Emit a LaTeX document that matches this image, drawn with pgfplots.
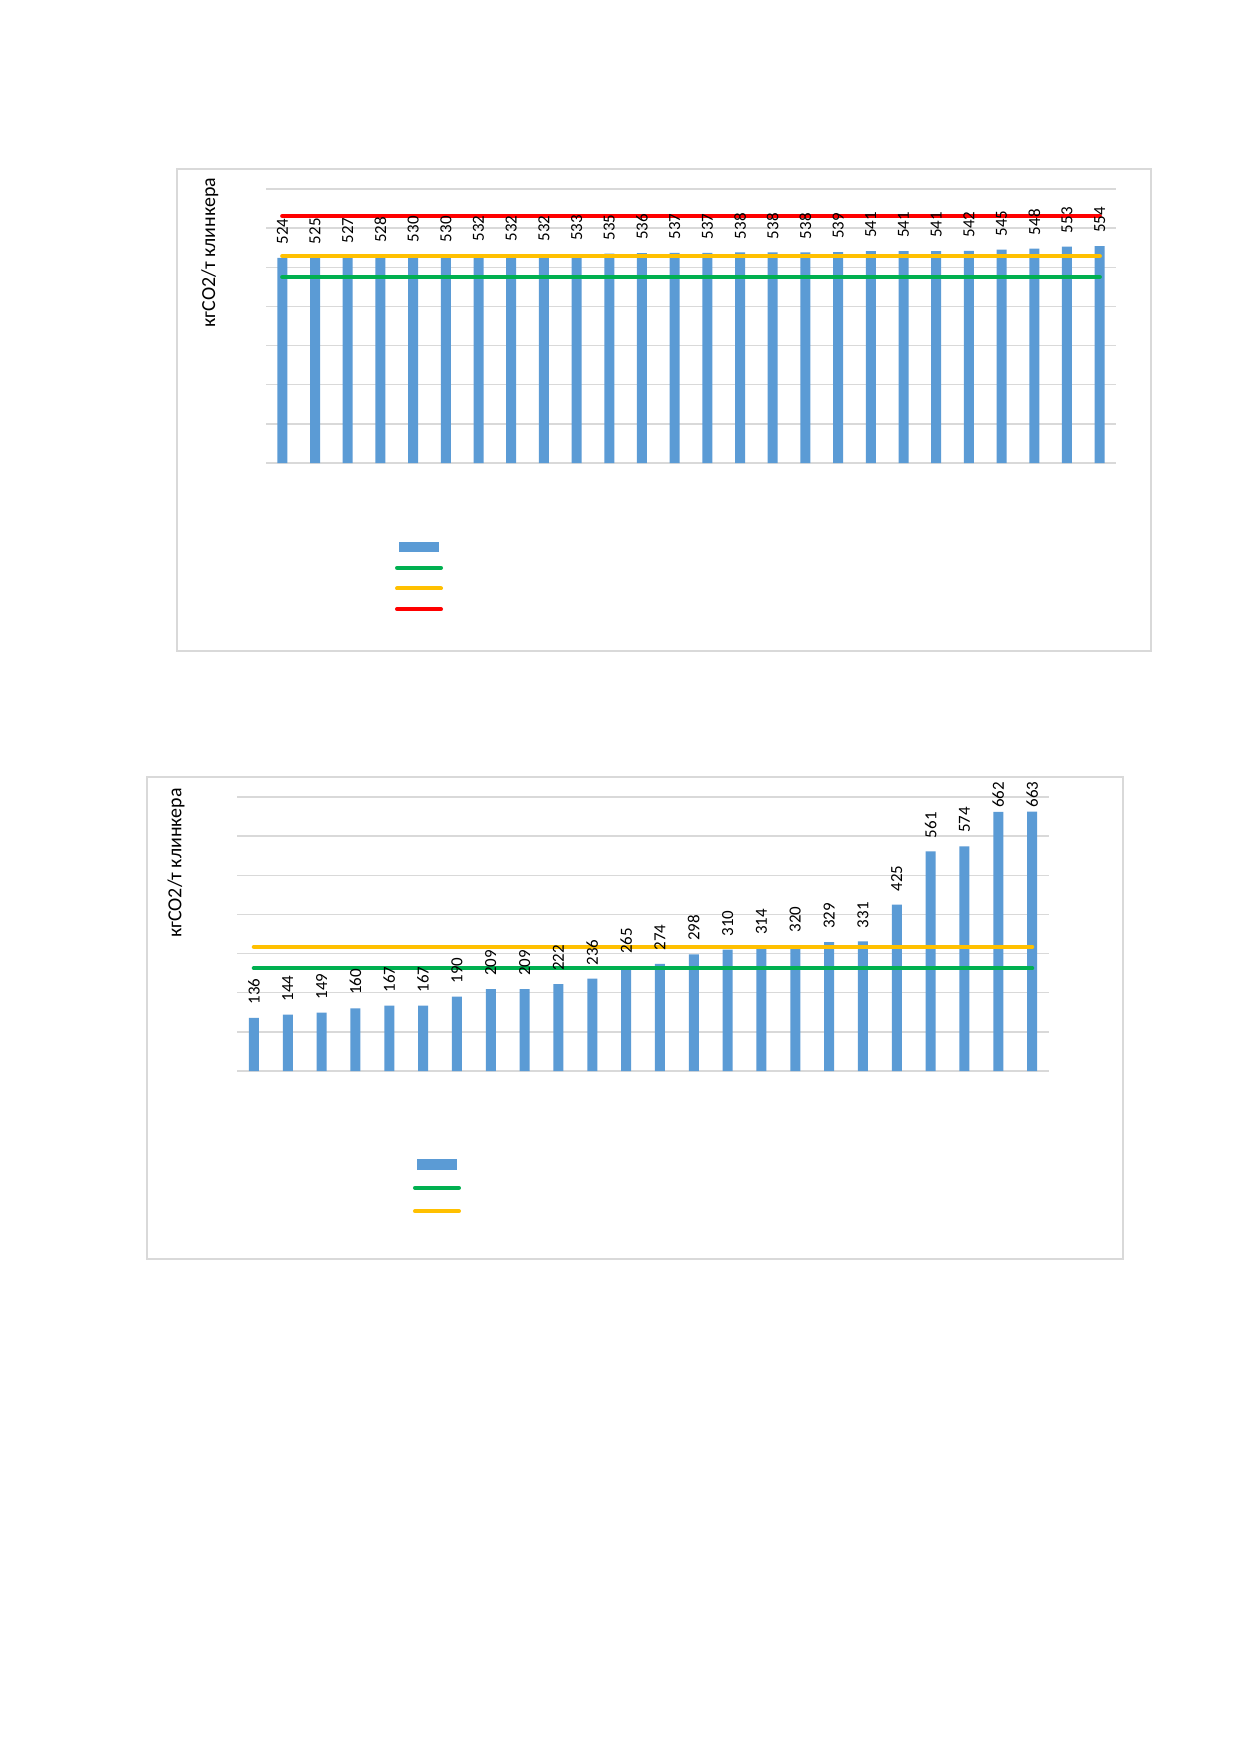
\documentclass[border=0pt]{standalone}
\usepackage{fontspec}
\setmainfont{Carlito}
\usepackage{pgfplots}
\pgfplotsset{compat=1.18}
\definecolor{barblue}{HTML}{5B9BD5}
\definecolor{lgreen}{HTML}{00B050}
\definecolor{lyellow}{HTML}{FFC000}
\definecolor{lred}{HTML}{FF0000}
\definecolor{gridgray}{HTML}{D9D9D9}
\pgfplotsset{
  mychart/.style={
    scale only axis, anchor=south west, height=137bp,
    /pgf/number format/assume math mode=true,
    ymin=0, ymax=700, ytick={0,100,...,700}, yticklabels={},
    xtick=\empty, major tick length=0pt,
    ymajorgrids, grid style={draw=gridgray, line width=0.7bp},
    axis line style={draw=none}, clip=false,
    ylabel={кгCO2/т клинкера},
    ylabel style={font=\fontsize{8.9}{11}\selectfont},
    legend style={draw=none, fill=none, inner sep=0pt, outer sep=0pt,
      anchor=north west, row sep=0pt, column sep=0pt,
      nodes={inner sep=0pt, outer sep=0pt, text height=0pt, text depth=0pt}},
  },
  mybars/.style={ybar, bar width=5bp, fill=barblue, draw=none,
    visualization depends on={\thisrow{g} \as \labgap},
    nodes near coords, nodes near coords align={anchor=west},
    every node near coord/.append style={rotate=90, anchor=west, text=black,
      font=\fontsize{8.5}{10}\selectfont, inner xsep=\labgap bp, inner ysep=0pt},
    legend image code/.code={\path[draw=none,fill=none] (0bp,-#1) rectangle (22bp,#1);
      \fill[barblue] (1bp,-2.6bp) rectangle (21bp,2.6bp);}},
  myline/.style n args={2}{sharp plot, draw=#1, line width=2.2bp, line cap=round, mark=none,
    legend image code/.code={\path[draw=none,fill=none] (0bp,-#2) rectangle (22bp,#2);
      \draw[#1, line width=2bp, line cap=round] (0bp,0bp) -- (22bp,0bp);}},
}
\pgfplotstableread{
x y g
0 524 6.5
1 525 6.5
2 527 6.5
3 528 6.5
4 530 6.5
5 530 6.5
6 532 6.5
7 532 6.5
8 532 6.5
9 533 6.5
10 535 6.5
11 536 6.5
12 537 6.5
13 537 6.5
14 538 6.5
15 538 6.5
16 538 6.5
17 539 6.5
18 541 6.5
19 541 6.5
20 541 6.5
21 542 6.5
22 545 6.5
23 548 6.5
24 553 6.5
25 554 6.5
}\dataA
\pgfplotstableread{
x y g
0 136 6.5
1 144 6.5
2 149 6.5
3 160 6.5
4 167 6.5
5 167 6.5
6 190 6.5
7 209 6.5
8 209 6.5
9 222 6.5
10 236 6.5
11 265 6.5
12 274 6.5
13 298 6.5
14 310 6.5
15 314 6.5
16 320 6.5
17 329 6.5
18 331 6.5
19 425 6.5
20 561 6.5
21 574 6.5
22 662 1.8
23 663 1.8
}\dataB
\begin{document}
\begin{tikzpicture}[x=0.5bp,y=-0.5bp]
\useasboundingbox (0,0) rectangle (1240,1754);
\fill[white] (0,0) rectangle (1240,1754);
\draw[gridgray, line width=0.75bp] (177,169) rectangle (1151,651);
\draw[gridgray, line width=0.75bp] (147,777) rectangle (1123,1259);
\coordinate (A1) at (266,463);
\coordinate (A2) at (237,1071);
\begin{axis}[mychart, at={(A1)}, width=425bp,
  xmin=-0.5, xmax=25.5,
  every axis y label/.style={at={(axis description cs:-0.066,0.768)}, rotate=90, anchor=center},
  legend style={at={(axis description cs:0.1518,-0.269)}}]
\addplot[mybars=5.175bp] table[x=x,y=y]{\dataA};
\addlegendentry{\phantom{x}}
\addplot[myline={lgreen}{5.175bp}] coordinates {(0,475) (25,475)};
\addlegendentry{\phantom{x}}
\addplot[myline={lyellow}{5.175bp}] coordinates {(0,529) (25,529)};
\addlegendentry{\phantom{x}}
\addplot[myline={lred}{5.175bp}] coordinates {(0,631) (25,631)};
\addlegendentry{\phantom{x}}
\end{axis}
\begin{axis}[mychart, at={(A2)}, width=406bp,
  xmin=-0.5, xmax=23.5,
  every axis y label/.style={at={(axis description cs:-0.0751,0.759)}, rotate=90, anchor=center},
  legend style={at={(axis description cs:0.2167,-0.2987)}}]
\addplot[mybars=5.825bp] table[x=x,y=y]{\dataB};
\addlegendentry{\phantom{x}}
\addplot[myline={lgreen}{5.825bp}] coordinates {(0,263) (23,263)};
\addlegendentry{\phantom{x}}
\addplot[myline={lyellow}{5.825bp}] coordinates {(0,317) (23,317)};
\addlegendentry{\phantom{x}}
\end{axis}
\end{tikzpicture}
\end{document}
